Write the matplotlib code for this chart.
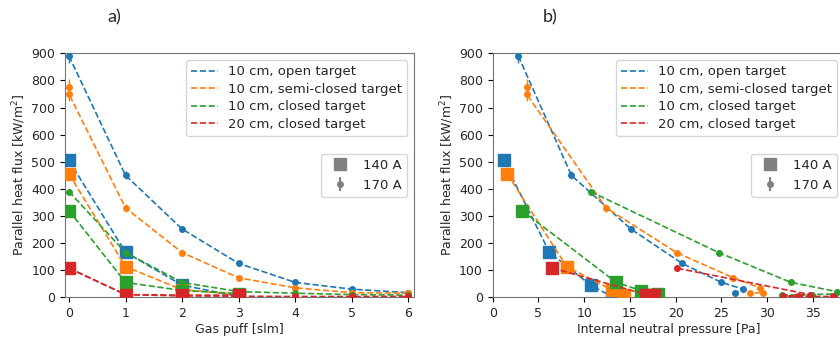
import numpy as np
import matplotlib
matplotlib.use("Agg")
import matplotlib.pyplot as plt

# DATA
series_labels = ['10 cm, open target', '10 cm, semi-closed target',
                 '10 cm, closed target', '20 cm, closed target']
colors = ['#1f77b4', '#ff7f0e', '#2ca02c', '#d62728']

# 140 A (squares)
gas_140 = [[0, 1, 2, 3], [0, 1, 2, 3], [0, 1, 2, 3], [0, 1, 2, 3]]
q_140 = [[505, 166, 45, 3],
         [455, 113, 28, 10],
         [320, 55, 25, 14],
         [108, 10, 8, 8]]
p_140 = [[1.2, 6.2, 10.7, 13.0],
         [1.6, 8.1, 13.0, 14.3],
         [3.2, 13.5, 16.2, 18.1],
         [6.5, 16.8, 17.6, 17.4]]
err_140 = [[18, 8, 5, 3], [15, 8, 5, 3], [12, 6, 4, 3], [8, 3, 2, 2]]

# 170 A (circles)
gas_170 = [[0, 1, 2, 3, 4, 5, 6],
           [0, 0, 1, 2, 3, 4, 5, 6],
           [0, 1, 2, 3, 4, 5, 6],
           [0, 1, 2, 3, 4, 5, 6]]
q_170 = [[890, 450, 252, 125, 55, 30, 17],
         [775, 750, 330, 165, 72, 35, 17, 15],
         [390, 165, 55, 21, 15, 10, 8],
         [107, 10, 5, 4, 3, 3, 3]]
p_170 = [[2.8, 8.6, 15.1, 20.7, 25.0, 27.4, 26.5],
         [3.8, 3.7, 12.4, 20.1, 26.3, 29.2, 29.5, 28.1],
         [10.7, 24.7, 32.6, 37.6, 39.5, 34.9, 31.6],
         [20.2, 34.7, 33.4, 31.7, 37.2, 39.0, 40.0]]
err_170 = [[25, 15, 8, 6, 4, 3, 3],
           [30, 25, 15, 8, 5, 4, 3, 3],
           [10, 8, 5, 3, 3, 3, 3],
           [6, 3, 2, 2, 2, 2, 2]]

plt.rcParams['font.family'] = 'DejaVu Sans'
plt.rcParams['font.size'] = 9
plt.rcParams['text.color'] = '0.15'
plt.rcParams['xtick.labelcolor'] = '0.15'
plt.rcParams['ytick.labelcolor'] = '0.15'
plt.rcParams['axes.labelcolor'] = '0.15'

fig = plt.figure(figsize=(8.4, 3.37), dpi=100)
ax1 = fig.add_axes([65 / 840, 0.1178, 349 / 840, 0.724])
ax2 = fig.add_axes([492.7 / 840, 0.1178, 351.3 / 840, 0.724])


def draw(ax, x140, x170):
    handles = []
    for i in range(4):
        ax.errorbar(x140[i], q_140[i], yerr=err_140[i], fmt='s--', color=colors[i],
                    markersize=8, linewidth=1.2, elinewidth=1, zorder=3)
        ax.errorbar(x170[i], q_170[i], yerr=err_170[i], fmt='o--', color=colors[i],
                    markersize=4, linewidth=1.2, elinewidth=1, zorder=3)
        h, = ax.plot([], [], '--', color=colors[i], linewidth=1.2, label=series_labels[i])
        handles.append(h)
    leg1 = ax.legend(handles=handles, loc='upper right', fontsize=9.5, labelspacing=0.35)
    ax.add_artist(leg1)
    e1 = ax.errorbar([np.nan], [np.nan], yerr=[1], fmt='s', color='grey', markersize=8)
    e2 = ax.errorbar([np.nan], [np.nan], yerr=[1], fmt='o', color='grey', markersize=4)
    ax.legend([e1, e2], ['140 A', '170 A'], loc='center right', fontsize=9.5)
    ax.set_ylim(0, 900)
    ax.set_yticks(np.arange(0, 901, 100))
    ax.set_ylabel('Parallel heat flux [kW/m$^2$]', labelpad=2)
    ax.tick_params(labelsize=9)
    for s in ax.spines.values():
        s.set_color('0.45')


draw(ax1, gas_140, gas_170)
ax1.set_xlim(-0.07, 6.1)
ax1.set_xticks(range(7))
ax1.set_xlabel('Gas puff [slm]', labelpad=2)

draw(ax2, p_140, p_170)
ax2.set_xlim(0, 38.4)
ax2.set_xticks(np.arange(0, 36, 5))
ax2.set_xlabel('Internal neutral pressure [Pa]', labelpad=2)

fig.text(114 / 840, 1 - 17 / 337, 'a)', fontsize=13, family='Lato', ha='center', va='center')
fig.text(550 / 840, 1 - 17 / 337, 'b)', fontsize=13, family='Lato', ha='center', va='center')

fig.savefig('out.png', dpi=100)
